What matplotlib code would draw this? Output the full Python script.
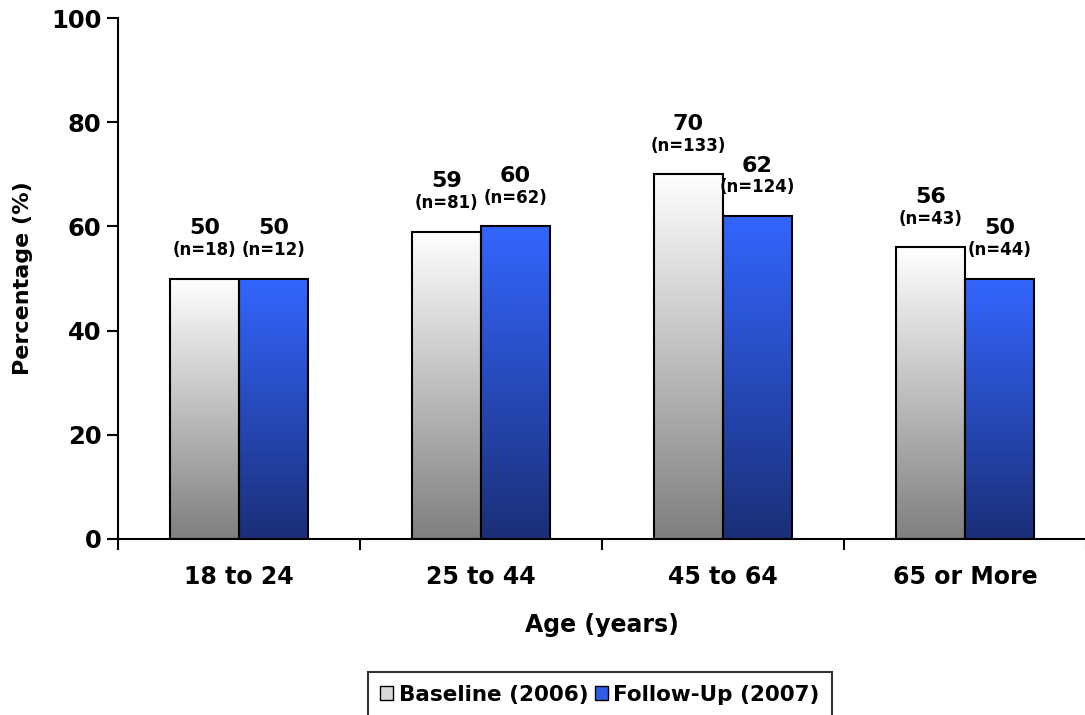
import numpy as np
import matplotlib.pyplot as plt
from matplotlib.patches import Patch
from matplotlib.colors import LinearSegmentedColormap

plt.rcParams['font.family'] = ['DejaVu Sans']
plt.rcParams['font.weight'] = 'bold'

categories = ['18 to 24', '25 to 44', '45 to 64', '65 or More']
baseline = [50, 59, 70, 56]
followup = [50, 60, 62, 50]
baseline_n = [18, 81, 133, 43]
followup_n = [12, 62, 124, 44]
series_names = ['Baseline (2006)', 'Follow-Up (2007)']

fig = plt.figure(figsize=(10.85, 7.15), dpi=100)
ax = fig.add_axes([118 / 1085, 1 - 539 / 715, 968 / 1085, 521 / 715])

grey_cmap = LinearSegmentedColormap.from_list('grey', ['#7f7f7f', '#ffffff'])
blue_cmap = LinearSegmentedColormap.from_list('blue', ['#1b2f78', '#3366ff'])

width = 0.285
x = np.arange(len(categories))
grad = np.linspace(0, 1, 256).reshape(-1, 1)


def gradient_bars(xs, vals, cmap):
    bars = ax.bar(xs, vals, width=width, facecolor='none', edgecolor='black',
                  linewidth=1.5, zorder=3)
    for b in bars:
        x0, y0 = b.get_x(), b.get_y()
        w, h = b.get_width(), b.get_height()
        im = ax.imshow(grad, cmap=cmap, origin='lower', aspect='auto',
                       extent=[x0, x0 + w, y0, y0 + h], zorder=2)
        im.set_clip_path(b)
    return bars


bars_b = gradient_bars(x - width / 2, baseline, grey_cmap)
bars_f = gradient_bars(x + width / 2, followup, blue_cmap)

for bars, vals, ns in [(bars_b, baseline, baseline_n), (bars_f, followup, followup_n)]:
    for b, v, n in zip(bars, vals, ns):
        cx = b.get_x() + b.get_width() / 2
        ax.annotate(f'{v}', (cx, v), xytext=(0, 32), textcoords='offset points',
                    ha='center', va='baseline', fontsize=16, fontweight='bold')
        ax.annotate(f'(n={n})', (cx, v), xytext=(0, 17), textcoords='offset points',
                    ha='center', va='baseline', fontsize=12, fontweight='bold')

ax.set_xlim(-0.5, 3.5)
ax.set_ylim(0, 100)
ax.set_yticks([0, 20, 40, 60, 80, 100])
ax.set_xticks(x)
ax.set_xticklabels(categories)
ax.set_xticks(np.arange(-0.5, 3.6, 1), minor=True)
ax.tick_params(axis='x', which='major', length=0, pad=19, labelsize=17)
ax.tick_params(axis='x', which='minor', length=8, width=1.5, direction='out')
ax.tick_params(axis='y', length=8, width=1.5, direction='out', labelsize=17.5, pad=4)
for lab in ax.get_xticklabels() + ax.get_yticklabels():
    lab.set_fontweight('bold')

for side in ['top', 'right']:
    ax.spines[side].set_visible(False)
for side in ['left', 'bottom']:
    ax.spines[side].set_linewidth(1.5)

ax.set_ylabel('Percentage (%)', fontsize=16, fontweight='bold', labelpad=13)
ax.set_xlabel('Age (years)', fontsize=17, fontweight='bold', labelpad=17)

handles = [Patch(facecolor='#d9d9d9', edgecolor='black', linewidth=1),
           Patch(facecolor='#2f5de8', edgecolor='black', linewidth=1)]
leg = fig.legend(handles, series_names, loc='upper center',
                 bbox_to_anchor=(600 / 1085, 1 - 672 / 715),
                 ncol=2, frameon=True, fancybox=False, edgecolor='black',
                 prop={'size': 15.5, 'weight': 'bold'}, handlelength=0.6,
                 handleheight=0.6, handletextpad=0.25, columnspacing=0.3,
                 borderpad=0.6, borderaxespad=0)
leg.get_frame().set_linewidth(1.5)

fig.savefig('out.png', dpi=100)
